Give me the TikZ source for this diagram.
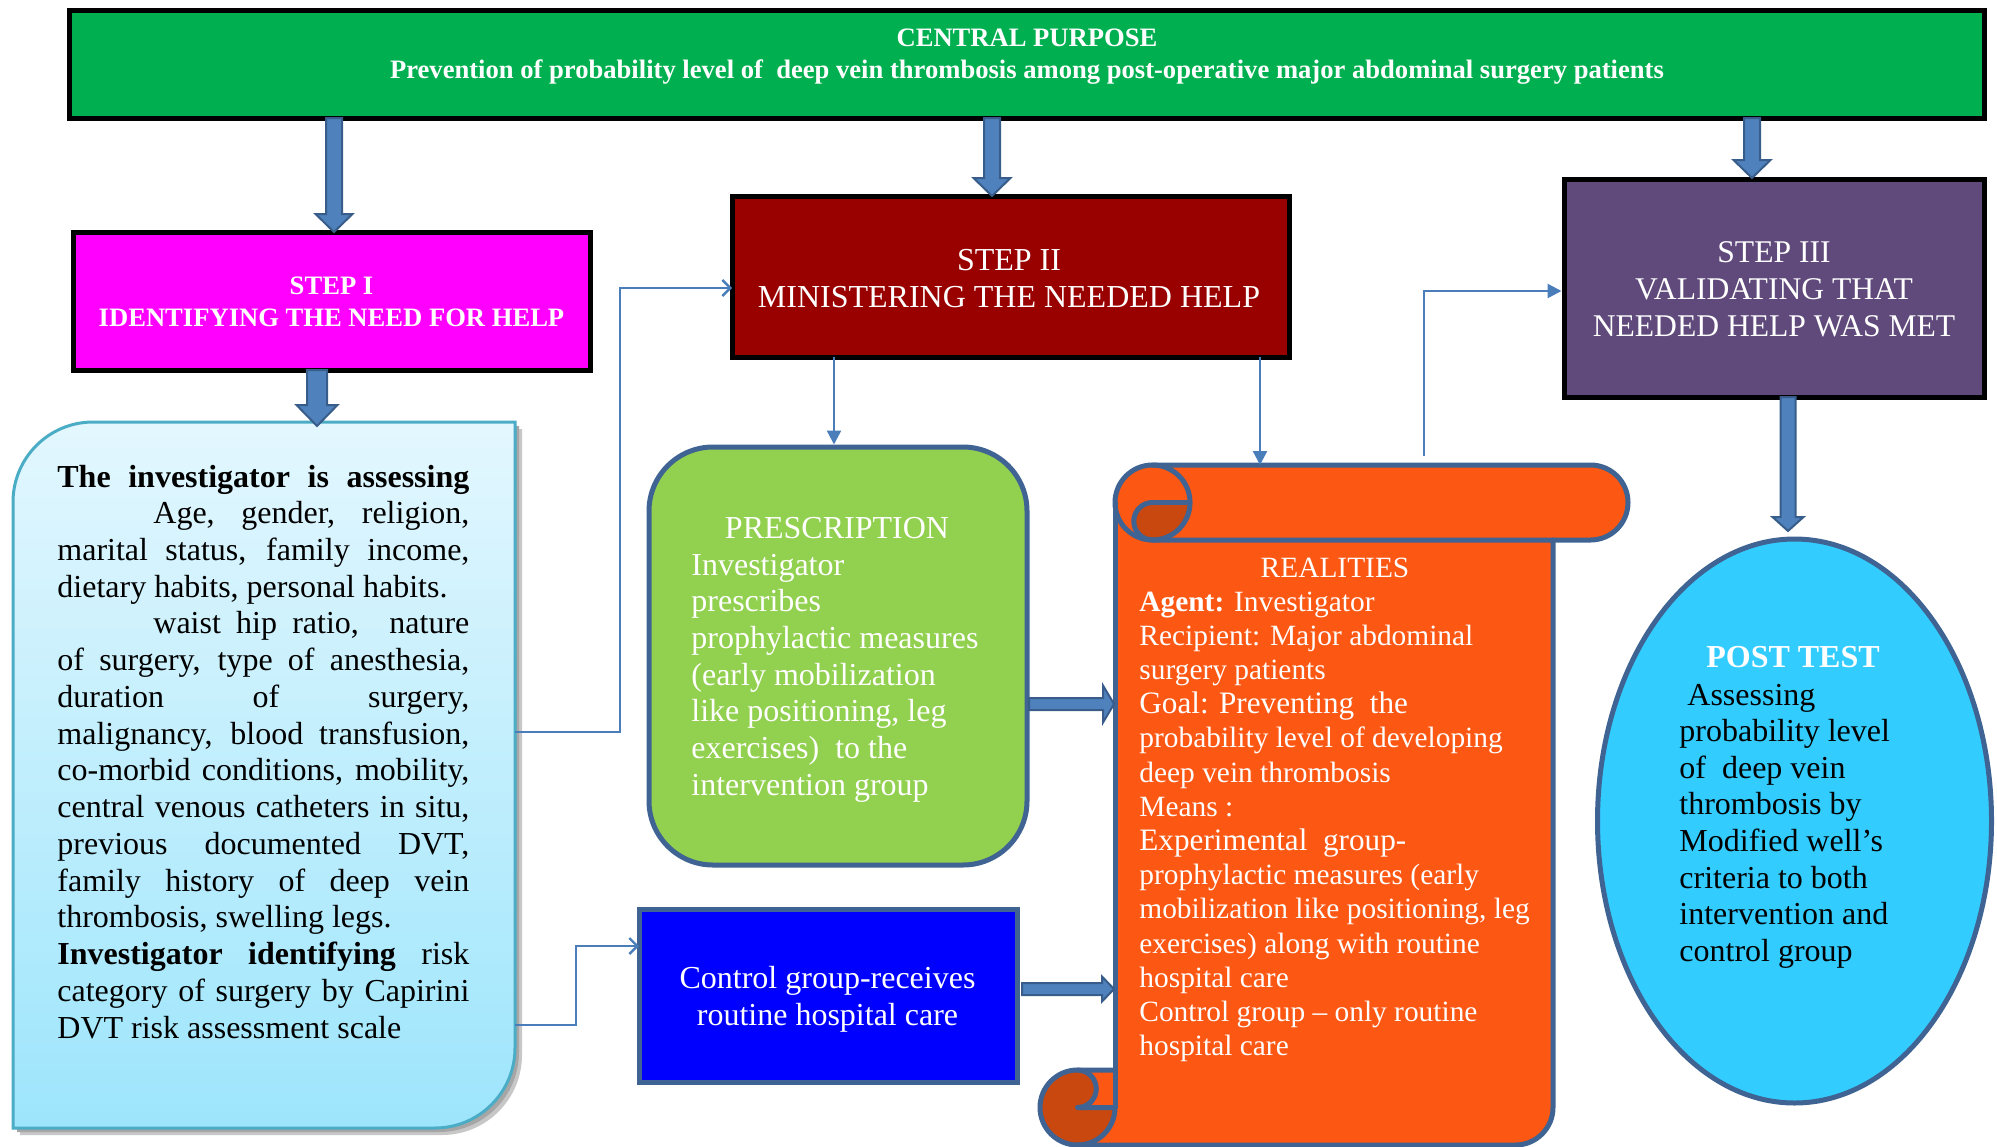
\documentclass[tikz,border=0pt]{standalone}
\usepackage{fontspec}
\setmainfont{Liberation Serif}
\usetikzlibrary{arrows.meta,shapes.geometric}
\definecolor{cpgreen}{HTML}{00B050}
\definecolor{magbox}{HTML}{FF00FF}
\definecolor{redbox}{HTML}{990000}
\definecolor{purbox}{HTML}{604A7B}
\definecolor{grnbox}{HTML}{92D050}
\definecolor{blubox}{HTML}{0000FF}
\definecolor{orgL}{HTML}{FC5713}
\definecolor{orgD}{HTML}{C8480F}
\definecolor{cyanbox}{HTML}{33CCFF}
\definecolor{outl}{HTML}{3F6392}
\definecolor{conn}{HTML}{4A7EBB}
\definecolor{arrF}{HTML}{4F81BD}
\definecolor{arrD}{HTML}{385D8A}
\definecolor{lbTop}{HTML}{E3F7FE}
\definecolor{lbBot}{HTML}{9DE5FC}
\definecolor{lbBorder}{HTML}{4BACC6}
\newcommand{\setfs}[2]{\fontsize{#1}{#2}\selectfont}
\newcommand{\jline}[1]{\noindent\makebox[\linewidth][s]{#1}\par}
\newcommand{\rline}[1]{\noindent #1\par}
\begin{document}
\begin{tikzpicture}[x=0.5pt,y=-0.5pt,
  blackbox/.style={draw=black, line width=2.5pt, inner sep=0pt},
  bluebox/.style={draw=outl, line width=2.5pt, inner sep=0pt},
  blockarrow/.style={draw=arrD, fill=arrF, line width=1pt, line join=miter},
  bdown/.style n args={3}{blockarrow, to path={([xshift=-#1]\tikztostart) -- ([xshift=-#1,yshift=#3]\tikztotarget) -- ([xshift=-#2,yshift=#3]\tikztotarget) -- (\tikztotarget) -- ([xshift=#2,yshift=#3]\tikztotarget) -- ([xshift=#1,yshift=#3]\tikztotarget) -- ([xshift=#1]\tikztostart) -- cycle}},
  bright/.style n args={3}{blockarrow, to path={([yshift=#1]\tikztostart) -- ([yshift=#1,xshift=-#3]\tikztotarget) -- ([yshift=#2,xshift=-#3]\tikztotarget) -- (\tikztotarget) -- ([yshift=-#2,xshift=-#3]\tikztotarget) -- ([yshift=-#1,xshift=-#3]\tikztotarget) -- ([yshift=-#1]\tikztostart) -- cycle}},
  thin/.style={draw=conn, line width=1.2pt},
  openarr/.style={thin, -{Straight Barb[length=4pt,width=8pt]}},
  fillarr/.style={thin, -{Triangle[length=7pt,width=7pt]}},
  scrl/.style={draw=outl, line width=2.5pt, line join=round, line cap=round},
  txt/.style={inner sep=0pt, anchor=base}
]
\useasboundingbox (0,0) rectangle (1997,1146);

% ---------- boxes ----------
\node[blackbox, fill=cpgreen, minimum width=957.5pt, minimum height=54pt] (cp) at (1026.5,64) {};
\node[txt, text=white, font=\bfseries\setfs{13.3}{16}] (cpt) at (1027,46)
  {\parbox[t]{940pt}{\centering CENTRAL PURPOSE\\Prevention of probability level of\ \ deep vein thrombosis among post-operative major abdominal surgery patients}};

\node[blackbox, fill=magbox, minimum width=258.5pt, minimum height=69pt] (s1) at (331.5,301) {};
\node[txt, text=white, font=\bfseries\setfs{13.3}{16}] (s1t) at (331.5,294)
  {\parbox[t]{250pt}{\centering STEP I\\IDENTIFYING THE NEED FOR HELP}};

\node[blackbox, fill=redbox, minimum width=278.5pt, minimum height=80.5pt] (s2) at (1010.5,276.5) {};
\node[txt, text=white, font=\setfs{16}{18.5}] (s2t) at (1009,270)
  {\parbox[t]{270pt}{\centering STEP II\\MINISTERING THE NEEDED HELP}};

\node[blackbox, fill=purbox, minimum width=210pt, minimum height=109pt] (s3) at (1774,288) {};
\node[txt, text=white, font=\setfs{15.8}{18.5}] (s3t) at (1774,262)
  {\parbox[t]{205pt}{\centering STEP III\\VALIDATING THAT\\NEEDED HELP WAS MET}};

% ---------- left box ----------
\def\lbpath{(13,502) arc (180:270:80) -- (515,422) -- (515,1048) arc (0:90:80) -- (13,1128) -- cycle}
\fill[black!22, shift={(7,7)}] \lbpath;
\fill[black!35, shift={(4,4)}] \lbpath;
\shade[top color=lbTop, bottom color=lbBot] \lbpath;
\draw[lbBorder, line width=1.5pt] \lbpath;
\coordinate (lbN) at (317,422);
\coordinate (lbE1) at (515,732);
\coordinate (lbE2) at (515,1025);
\node[txt, anchor=base west] (lbt) at (57,487)
  {\parbox[t]{206pt}{\setfs{16}{18.37}\parindent=0pt\parskip=0pt
   \jline{\textbf{The investigator is assessing}}
   \jline{\hspace*{48pt}Age, gender, religion,}
   \jline{marital status, family income,}
   \rline{dietary habits, personal habits.}
   \jline{\hspace*{48pt}waist hip ratio,\ \ nature}
   \jline{of surgery, type of anesthesia,}
   \jline{duration of surgery,}
   \jline{malignancy, blood transfusion,}
   \jline{co-morbid conditions, mobility,}
   \jline{central venous catheters in situ,}
   \jline{previous documented DVT,}
   \jline{family history of deep vein}
   \rline{thrombosis, swelling legs.}
   \jline{\textbf{Investigator identifying} risk}
   \jline{category of surgery by Capirini}
   \rline{DVT risk assessment scale}}};

% ---------- prescription ----------
\node[bluebox, fill=grnbox, rounded corners=32pt, minimum width=189pt, minimum height=209pt] (gr) at (838,656) {};
\node[txt, text=white, font=\setfs{16}{18.5}] (grt) at (837,538) {PRESCRIPTION};
\node[txt, anchor=base west, text=white] (grb) at (691,575)
  {\parbox[t]{180pt}{\setfs{16}{18.35}\raggedright
   Investigator\\prescribes\\prophylactic measures\\(early mobilization\\like positioning, leg\\exercises)\ \ to the\\intervention group}};

% ---------- control ----------
\node[bluebox, fill=blubox, minimum width=189pt, minimum height=86.5pt] (ctl) at (828,995.5) {};
\node[txt, text=white, font=\setfs{16}{18.5}] (ctlt) at (827.5,988)
  {\parbox[t]{185pt}{\centering Control group-receives\\routine hospital care}};

% ---------- realities scroll ----------
\fill[orgL] (1115,502.5) -- (1553,502.5) -- (1553,1107.5) arc (0:90:37.5) -- (1077.5,1145) -- (1077.5,1070) -- (1115,1070) -- cycle;
\fill[orgL] (1152.5,465) -- (1590.5,465) arc (-90:90:37.5) -- (1152.5,540) arc (90:270:37.5) -- cycle;
\fill[orgD] (1152.5,502.5) -- (1190,502.5) arc (0:90:37.5) arc (90:270:18.75) -- cycle;
\fill[orgD] (1077.5,1107.5) circle (37.5);
\fill[orgL] (1077.5,1070) rectangle (1115,1107.5);
\fill[orgD] (1077.5,1088.75) circle (18.75);
\draw[scrl] (1152.5,465) -- (1590.5,465) arc (-90:90:37.5) -- (1152.5,540);
\draw[scrl] (1152.5,502.5) circle (37.5);
\draw[scrl] (1152.5,502.5) -- (1190,502.5);
\draw[scrl] (1152.5,502.5) arc (270:90:18.75);
\draw[scrl] (1115,502.5) -- (1115,1107.5);
\draw[scrl] (1553,540) -- (1553,1107.5) arc (0:90:37.5) -- (1077.5,1145);
\draw[scrl] (1077.5,1145) arc (90:270:37.5) -- (1115,1070);
\draw[scrl] (1077.5,1070) arc (-90:90:18.75) -- (1115,1107.5);
\draw[scrl] (1115,1107.5) arc (0:90:37.5);
\coordinate (scT1) at (1260,465);
\coordinate (scT2) at (1424,456);
\coordinate (scL1) at (1114,704);
\coordinate (scL2) at (1114,989);
\node[txt, text=white, font=\setfs{14.7}{17}] (rt) at (1335,577) {REALITIES};
\node[txt, anchor=base west, text=white] (rb) at (1139,611)
  {\parbox[t]{205pt}{\setfs{14.7}{17.1}\raggedright
   \textbf{Agent:} Investigator\\
   Recipient: Major abdominal\\
   surgery patients\\
   {\setfs{15.6}{17.1}Goal: Preventing\ \ the}\\
   probability level of developing\\
   deep vein thrombosis\\
   Means :\\
   {\setfs{15.6}{17.1}Experimental\ \ group-}\\
   prophylactic measures (early\\
   mobilization like positioning, leg\\
   exercises) along with routine\\
   hospital care\\
   Control group – only routine\\
   hospital care}};

% ---------- post test ----------
\node[ellipse, bluebox, fill=cyanbox, minimum width=197pt, minimum height=282pt] (post) at (1794.5,821) {};
\node[txt, text=white, font=\bfseries\setfs{16}{18}] (postt) at (1793,667) {POST TEST};
\node[txt, anchor=base west] (postb) at (1679,705)
  {\parbox[t]{160pt}{\setfs{16}{18.3}\raggedright
   \hspace*{4pt}Assessing\\probability level\\of\ \ deep vein\\thrombosis by\\Modified well’s\\criteria to both\\intervention and\\control group}};

% ---------- block arrows ----------
\coordinate (a1s) at (334,118);   \coordinate (a1e) at (334,232);
\coordinate (a2s) at (992,118);   \coordinate (a2e) at (992,196);
\coordinate (a3s) at (1752,118);  \coordinate (a3e) at (1752,178);
\coordinate (a4s) at (317,370);
\coordinate (a5s) at (1788,397);  \coordinate (a5e) at (1788,531);
\coordinate (a6s) at (1029,704);
\coordinate (a7s) at (1022,989);
\draw[bdown={4pt}{9.25pt}{9pt}] (a1s) to (a1e);
\draw[bdown={4pt}{9.25pt}{9pt}] (a2s) to (a2e);
\draw[bdown={4pt}{9.25pt}{9pt}] (a3s) to (a3e);
\draw[bdown={5pt}{10.25pt}{10.5pt}] (a4s) to ([yshift=-2pt]lbN);
\draw[bdown={3.75pt}{7.75pt}{7pt}] (a5s) to (a5e);
\draw[bright={3pt}{9.25pt}{5.5pt}] (a6s) to (scL1);
\draw[bright={3pt}{6.25pt}{6pt}] (a7s) to (scL2);

% ---------- thin connectors ----------
\coordinate (s2in) at (732,288);
\coordinate (ctin) at (639,946);
\draw[openarr] (lbE1) -- (620,732) -- (620,288) -- (s2in);
\draw[openarr] (lbE2) -- (576,1025) -- (576,946) -- (ctin);
\draw[fillarr] (834,357) -- (gr.north -| 834,447);
\draw[fillarr] (1260,357) -- (scT1);
\draw[fillarr] (scT2) -- (1424,291) -- (s3.west |- 1424,291);
\end{tikzpicture}
\end{document}
